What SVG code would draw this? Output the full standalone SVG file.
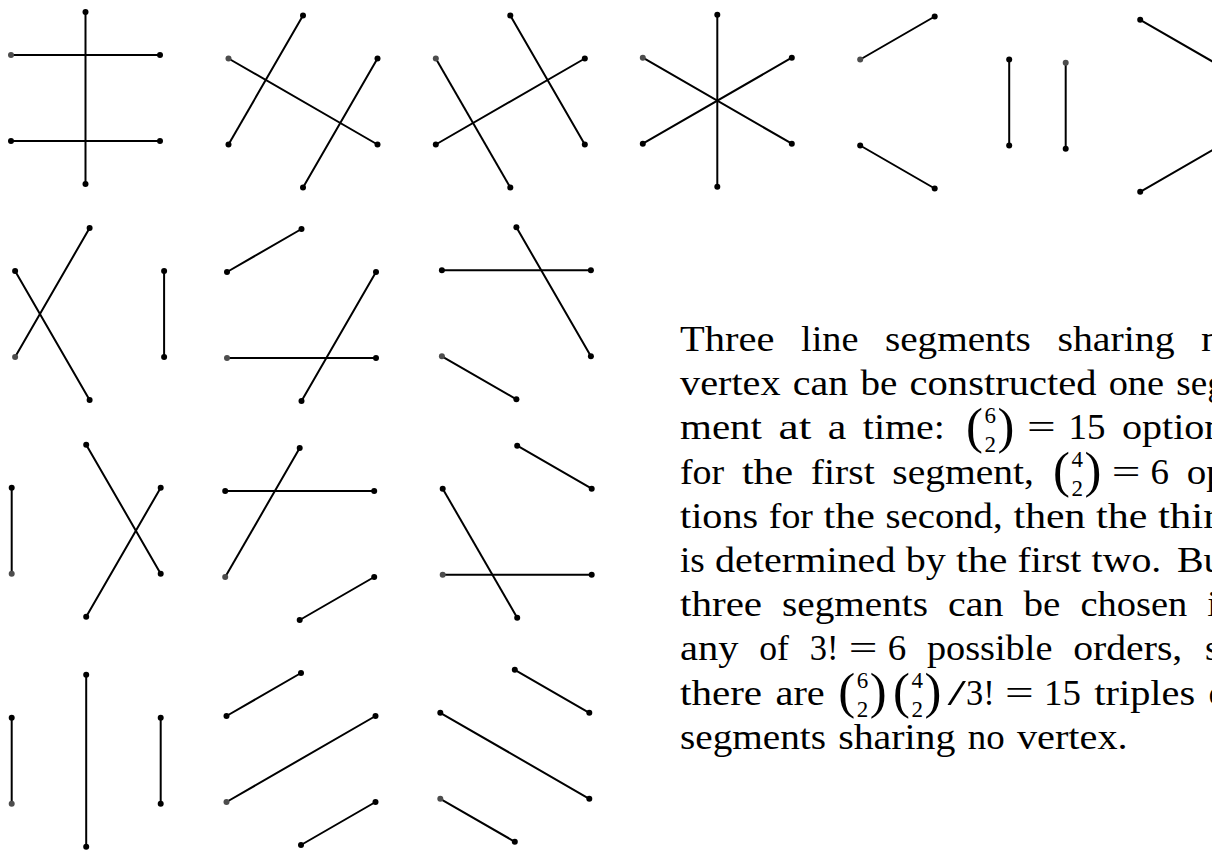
<svg xmlns="http://www.w3.org/2000/svg" width="1212" height="850" viewBox="0 0 1212 850">
<style>
.seg line{stroke:#000;stroke-width:2;stroke-linecap:round}
.dots circle{fill:#000}
.dots circle.g{fill:#4d4d4d}
text{font-family:"Liberation Serif","Times New Roman",serif;font-size:35px;fill:#000}
text.sc{font-size:23px}
text.pr{font-size:50px}
</style>
<rect width="1212" height="850" fill="#fff"/>
<g id="figures">
<g id="p1" transform="translate(85.5,98)"><g class="seg"><line x1="-74.5" y1="-43" x2="74.5" y2="-43"/><line x1="-74.5" y1="43" x2="74.5" y2="43"/><line x1="0" y1="-86" x2="0" y2="86"/></g><g class="dots"><circle class="g" cx="-74.5" cy="-43" r="3"/><circle cx="0" cy="-86" r="3"/><circle cx="74.5" cy="-43" r="3"/><circle cx="74.5" cy="43" r="3"/><circle cx="0" cy="86" r="3"/><circle cx="-74.5" cy="43" r="3"/></g></g>
<g id="p2" transform="translate(303,101.5)"><g class="seg"><line x1="0" y1="-86" x2="-74.5" y2="43"/><line x1="-74.5" y1="-43" x2="74.5" y2="43"/><line x1="74.5" y1="-43" x2="0" y2="86"/></g><g class="dots"><circle class="g" cx="-74.5" cy="-43" r="3"/><circle cx="0" cy="-86" r="3"/><circle cx="74.5" cy="-43" r="3"/><circle cx="74.5" cy="43" r="3"/><circle cx="0" cy="86" r="3"/><circle cx="-74.5" cy="43" r="3"/></g></g>
<g id="p3" transform="translate(510.3,101.5)"><g class="seg"><line x1="-74.5" y1="-43" x2="0" y2="86"/><line x1="-74.5" y1="43" x2="74.5" y2="-43"/><line x1="0" y1="-86" x2="74.5" y2="43"/></g><g class="dots"><circle class="g" cx="-74.5" cy="-43" r="3"/><circle cx="0" cy="-86" r="3"/><circle cx="74.5" cy="-43" r="3"/><circle cx="74.5" cy="43" r="3"/><circle cx="0" cy="86" r="3"/><circle cx="-74.5" cy="43" r="3"/></g></g>
<g id="p4" transform="translate(717.3,100.7)"><g class="seg"><line x1="0" y1="-86" x2="0" y2="86"/><line x1="-74.5" y1="-43" x2="74.5" y2="43"/><line x1="-74.5" y1="43" x2="74.5" y2="-43"/></g><g class="dots"><circle class="g" cx="-74.5" cy="-43" r="3"/><circle cx="0" cy="-86" r="3"/><circle cx="74.5" cy="-43" r="3"/><circle cx="74.5" cy="43" r="3"/><circle cx="0" cy="86" r="3"/><circle cx="-74.5" cy="43" r="3"/></g></g>
<g id="p5" transform="translate(934.7,102.5)"><g class="seg"><line x1="-74.5" y1="-43" x2="0" y2="-86"/><line x1="-74.5" y1="43" x2="0" y2="86"/><line x1="74.5" y1="-43" x2="74.5" y2="43"/></g><g class="dots"><circle class="g" cx="-74.5" cy="-43" r="3"/><circle cx="0" cy="-86" r="3"/><circle cx="74.5" cy="-43" r="3"/><circle cx="74.5" cy="43" r="3"/><circle cx="0" cy="86" r="3"/><circle cx="-74.5" cy="43" r="3"/></g></g>
<g id="p6" transform="translate(1140.2,105.8)"><g class="seg"><line x1="-74.5" y1="-43" x2="-74.5" y2="43"/><line x1="0" y1="-86" x2="74.5" y2="-43"/><line x1="0" y1="86" x2="74.5" y2="43"/></g><g class="dots"><circle class="g" cx="-74.5" cy="-43" r="3"/><circle cx="0" cy="-86" r="3"/><circle cx="0" cy="86" r="3"/><circle cx="-74.5" cy="43" r="3"/></g></g>
<g id="p7" transform="translate(89.6,314)"><g class="seg"><line x1="-74.5" y1="43" x2="0" y2="-86"/><line x1="-74.5" y1="-43" x2="0" y2="86"/><line x1="74.5" y1="-43" x2="74.5" y2="43"/></g><g class="dots"><circle cx="-74.5" cy="-43" r="3"/><circle cx="0" cy="-86" r="3"/><circle cx="74.5" cy="-43" r="3"/><circle cx="74.5" cy="43" r="3"/><circle cx="0" cy="86" r="3"/><circle class="g" cx="-74.5" cy="43" r="3"/></g></g>
<g id="p8" transform="translate(301.5,315)"><g class="seg"><line x1="-74.5" y1="-43" x2="0" y2="-86"/><line x1="-74.5" y1="43" x2="74.5" y2="43"/><line x1="0" y1="86" x2="74.5" y2="-43"/></g><g class="dots"><circle cx="-74.5" cy="-43" r="3"/><circle cx="0" cy="-86" r="3"/><circle cx="74.5" cy="-43" r="3"/><circle cx="74.5" cy="43" r="3"/><circle cx="0" cy="86" r="3"/><circle class="g" cx="-74.5" cy="43" r="3"/></g></g>
<g id="p9" transform="translate(516.4,313.3)"><g class="seg"><line x1="-74.5" y1="-43" x2="74.5" y2="-43"/><line x1="0" y1="-86" x2="74.5" y2="43"/><line x1="-74.5" y1="43" x2="0" y2="86"/></g><g class="dots"><circle cx="-74.5" cy="-43" r="3"/><circle cx="0" cy="-86" r="3"/><circle cx="74.5" cy="-43" r="3"/><circle cx="74.5" cy="43" r="3"/><circle cx="0" cy="86" r="3"/><circle class="g" cx="-74.5" cy="43" r="3"/></g></g>
<g id="p10" transform="translate(86.2,530.7)"><g class="seg"><line x1="-74.5" y1="-43" x2="-74.5" y2="43"/><line x1="0" y1="-86" x2="74.5" y2="43"/><line x1="0" y1="86" x2="74.5" y2="-43"/></g><g class="dots"><circle cx="-74.5" cy="-43" r="3"/><circle cx="0" cy="-86" r="3"/><circle cx="74.5" cy="-43" r="3"/><circle cx="74.5" cy="43" r="3"/><circle cx="0" cy="86" r="3"/><circle class="g" cx="-74.5" cy="43" r="3"/></g></g>
<g id="p11" transform="translate(299.7,534)"><g class="seg"><line x1="-74.5" y1="-43" x2="74.5" y2="-43"/><line x1="0" y1="-86" x2="-74.5" y2="43"/><line x1="74.5" y1="43" x2="0" y2="86"/></g><g class="dots"><circle cx="-74.5" cy="-43" r="3"/><circle cx="0" cy="-86" r="3"/><circle cx="74.5" cy="-43" r="3"/><circle cx="74.5" cy="43" r="3"/><circle cx="0" cy="86" r="3"/><circle class="g" cx="-74.5" cy="43" r="3"/></g></g>
<g id="p12" transform="translate(517.2,531.7)"><g class="seg"><line x1="0" y1="-86" x2="74.5" y2="-43"/><line x1="-74.5" y1="-43" x2="0" y2="86"/><line x1="-74.5" y1="43" x2="74.5" y2="43"/></g><g class="dots"><circle cx="-74.5" cy="-43" r="3"/><circle cx="0" cy="-86" r="3"/><circle cx="74.5" cy="-43" r="3"/><circle cx="74.5" cy="43" r="3"/><circle cx="0" cy="86" r="3"/><circle class="g" cx="-74.5" cy="43" r="3"/></g></g>
<g id="p13" transform="translate(86.2,760.8)"><g class="seg"><line x1="-74.5" y1="-43" x2="-74.5" y2="43"/><line x1="0" y1="-86" x2="0" y2="86"/><line x1="74.5" y1="-43" x2="74.5" y2="43"/></g><g class="dots"><circle cx="-74.5" cy="-43" r="3"/><circle cx="0" cy="-86" r="3"/><circle cx="74.5" cy="-43" r="3"/><circle cx="74.5" cy="43" r="3"/><circle cx="0" cy="86" r="3"/><circle class="g" cx="-74.5" cy="43" r="3"/></g></g>
<g id="p14" transform="translate(301,759)"><g class="seg"><line x1="-74.5" y1="-43" x2="0" y2="-86"/><line x1="-74.5" y1="43" x2="74.5" y2="-43"/><line x1="0" y1="86" x2="74.5" y2="43"/></g><g class="dots"><circle cx="-74.5" cy="-43" r="3"/><circle cx="0" cy="-86" r="3"/><circle cx="74.5" cy="-43" r="3"/><circle cx="74.5" cy="43" r="3"/><circle cx="0" cy="86" r="3"/><circle class="g" cx="-74.5" cy="43" r="3"/></g></g>
<g id="p15" transform="translate(514.8,755.8)"><g class="seg"><line x1="0" y1="-86" x2="74.5" y2="-43"/><line x1="-74.5" y1="-43" x2="74.5" y2="43"/><line x1="-74.5" y1="43" x2="0" y2="86"/></g><g class="dots"><circle cx="-74.5" cy="-43" r="3"/><circle cx="0" cy="-86" r="3"/><circle cx="74.5" cy="-43" r="3"/><circle cx="74.5" cy="43" r="3"/><circle cx="0" cy="86" r="3"/><circle class="g" cx="-74.5" cy="43" r="3"/></g></g>
</g>
<g id="paragraph">
<g id="l1">
<text x="680" y="351" textLength="94.4" lengthAdjust="spacingAndGlyphs">Three</text>
<text x="801" y="351" textLength="57.4" lengthAdjust="spacingAndGlyphs">line</text>
<text x="884.9" y="351" textLength="145.9" lengthAdjust="spacingAndGlyphs">segments</text>
<text x="1057.4" y="351" textLength="117.2" lengthAdjust="spacingAndGlyphs">sharing</text>
<text x="1201.1" y="351" textLength="20.5" lengthAdjust="spacingAndGlyphs">n</text>
</g>
<g id="l2">
<text x="680" y="395.2" textLength="100.6" lengthAdjust="spacingAndGlyphs">vertex</text>
<text x="792.8" y="395.2" textLength="55.4" lengthAdjust="spacingAndGlyphs">can</text>
<text x="860.4" y="395.2" textLength="36.9" lengthAdjust="spacingAndGlyphs">be</text>
<text x="909.6" y="395.2" textLength="186.9" lengthAdjust="spacingAndGlyphs">constructed</text>
<text x="1108.7" y="395.2" textLength="55.4" lengthAdjust="spacingAndGlyphs">one</text>
<text x="1176.3" y="395.2" textLength="49.4" lengthAdjust="spacingAndGlyphs">seg</text>
</g>
<g id="l3">
<text x="680" y="439.4" textLength="82" lengthAdjust="spacingAndGlyphs">ment</text>
<text x="778.5" y="439.4" textLength="32.8" lengthAdjust="spacingAndGlyphs">at</text>
<text x="827.8" y="439.4" textLength="18.5" lengthAdjust="spacingAndGlyphs">a</text>
<text x="862.8" y="439.4" textLength="82" lengthAdjust="spacingAndGlyphs">time:</text>
<text class="pr" x="966" y="443.1" textLength="16.9" lengthAdjust="spacingAndGlyphs">(</text>
<text class="sc" x="990.3" y="423" text-anchor="middle">6</text>
<text class="sc" x="990.3" y="452.1" text-anchor="middle">2</text>
<text class="pr" x="997.6" y="443.1" textLength="16.9" lengthAdjust="spacingAndGlyphs">)</text>
<text x="1027" y="439.4" textLength="28.7" lengthAdjust="spacingAndGlyphs">=</text>
<text x="1068.5" y="439.4" textLength="36.9" lengthAdjust="spacingAndGlyphs">15</text>
<text x="1121.9" y="439.4" textLength="102.5" lengthAdjust="spacingAndGlyphs">option</text>
</g>
<g id="l4">
<text x="680" y="483.6" textLength="44.2" lengthAdjust="spacingAndGlyphs">for</text>
<text x="741.9" y="483.6" textLength="51.3" lengthAdjust="spacingAndGlyphs">the</text>
<text x="810.8" y="483.6" textLength="63.9" lengthAdjust="spacingAndGlyphs">first</text>
<text x="892.3" y="483.6" textLength="141.6" lengthAdjust="spacingAndGlyphs">segment,</text>
<text class="pr" x="1052.9" y="487.3" textLength="16.9" lengthAdjust="spacingAndGlyphs">(</text>
<text class="sc" x="1077.2" y="467.2" text-anchor="middle">4</text>
<text class="sc" x="1077.2" y="496.3" text-anchor="middle">2</text>
<text class="pr" x="1084.5" y="487.3" textLength="16.9" lengthAdjust="spacingAndGlyphs">)</text>
<text x="1111.7" y="483.6" textLength="28.7" lengthAdjust="spacingAndGlyphs">=</text>
<text x="1150.6" y="483.6" textLength="18.5" lengthAdjust="spacingAndGlyphs">6</text>
<text x="1186.8" y="483.6" textLength="39" lengthAdjust="spacingAndGlyphs">op</text>
</g>
<g id="l5">
<text x="680" y="527.8" textLength="78.1" lengthAdjust="spacingAndGlyphs">tions</text>
<text x="768.8" y="527.8" textLength="44.2" lengthAdjust="spacingAndGlyphs">for</text>
<text x="823.6" y="527.8" textLength="51.3" lengthAdjust="spacingAndGlyphs">the</text>
<text x="885.5" y="527.8" textLength="117.1" lengthAdjust="spacingAndGlyphs">second,</text>
<text x="1013.6" y="527.8" textLength="71.8" lengthAdjust="spacingAndGlyphs">then</text>
<text x="1096" y="527.8" textLength="51.3" lengthAdjust="spacingAndGlyphs">the</text>
<text x="1157.9" y="527.8" textLength="59.6" lengthAdjust="spacingAndGlyphs">thir</text>
</g>
<g id="l6">
<text x="680" y="572" textLength="24.8" lengthAdjust="spacingAndGlyphs">is</text>
<text x="715" y="572" textLength="180.5" lengthAdjust="spacingAndGlyphs">determined</text>
<text x="905.8" y="572" textLength="40" lengthAdjust="spacingAndGlyphs">by</text>
<text x="956" y="572" textLength="51.3" lengthAdjust="spacingAndGlyphs">the</text>
<text x="1017.5" y="572" textLength="63.9" lengthAdjust="spacingAndGlyphs">first</text>
<text x="1091.6" y="572" textLength="69.7" lengthAdjust="spacingAndGlyphs">two.</text>
<text x="1177" y="572" textLength="46.6" lengthAdjust="spacingAndGlyphs">Bu</text>
</g>
<g id="l7">
<text x="680" y="616.2" textLength="82.1" lengthAdjust="spacingAndGlyphs">three</text>
<text x="782.1" y="616.2" textLength="145.9" lengthAdjust="spacingAndGlyphs">segments</text>
<text x="948.1" y="616.2" textLength="55.4" lengthAdjust="spacingAndGlyphs">can</text>
<text x="1023.5" y="616.2" textLength="36.9" lengthAdjust="spacingAndGlyphs">be</text>
<text x="1080.4" y="616.2" textLength="106.8" lengthAdjust="spacingAndGlyphs">chosen</text>
<text x="1207.3" y="616.2" textLength="10.3" lengthAdjust="spacingAndGlyphs">i</text>
</g>
<g id="l8">
<text x="680" y="660.4" textLength="58.5" lengthAdjust="spacingAndGlyphs">any</text>
<text x="759.2" y="660.4" textLength="29.7" lengthAdjust="spacingAndGlyphs">of</text>
<text x="809.8" y="660.4" textLength="28.7" lengthAdjust="spacingAndGlyphs">3!</text>
<text x="848.7" y="660.4" textLength="28.7" lengthAdjust="spacingAndGlyphs">=</text>
<text x="887.7" y="660.4" textLength="18.5" lengthAdjust="spacingAndGlyphs">6</text>
<text x="926.9" y="660.4" textLength="125.5" lengthAdjust="spacingAndGlyphs">possible</text>
<text x="1073.2" y="660.4" textLength="109.1" lengthAdjust="spacingAndGlyphs">orders,</text>
<text x="1205" y="660.4" textLength="14.5" lengthAdjust="spacingAndGlyphs">s</text>
</g>
<g id="l9">
<text x="680" y="704.6" textLength="82.1" lengthAdjust="spacingAndGlyphs">there</text>
<text x="775.5" y="704.6" textLength="49.3" lengthAdjust="spacingAndGlyphs">are</text>
<text class="pr" x="838.2" y="708.3" textLength="16.9" lengthAdjust="spacingAndGlyphs">(</text>
<text class="sc" x="862.5" y="688.2" text-anchor="middle">6</text>
<text class="sc" x="862.5" y="717.3" text-anchor="middle">2</text>
<text class="pr" x="869.8" y="708.3" textLength="16.9" lengthAdjust="spacingAndGlyphs">)</text>
<text class="pr" x="892.9" y="708.3" textLength="16.9" lengthAdjust="spacingAndGlyphs">(</text>
<text class="sc" x="917.2" y="688.2" text-anchor="middle">4</text>
<text class="sc" x="917.2" y="717.3" text-anchor="middle">2</text>
<text class="pr" x="924.5" y="708.3" textLength="16.9" lengthAdjust="spacingAndGlyphs">)</text>
<text x="947.5" y="704.6" textLength="18.5" lengthAdjust="spacingAndGlyphs">/</text>
<text x="966" y="704.6" textLength="28.7" lengthAdjust="spacingAndGlyphs">3!</text>
<text x="1005" y="704.6" textLength="28.7" lengthAdjust="spacingAndGlyphs">=</text>
<text x="1044" y="704.6" textLength="36.9" lengthAdjust="spacingAndGlyphs">15</text>
<text x="1094.3" y="704.6" textLength="100.8" lengthAdjust="spacingAndGlyphs">triples</text>
<text x="1208.5" y="704.6" textLength="18.5" lengthAdjust="spacingAndGlyphs">o</text>
</g>
<g id="l10">
<text x="680" y="748.8" textLength="145.9" lengthAdjust="spacingAndGlyphs">segments</text>
<text x="838.2" y="748.8" textLength="117.2" lengthAdjust="spacingAndGlyphs">sharing</text>
<text x="967.7" y="748.8" textLength="36.9" lengthAdjust="spacingAndGlyphs">no</text>
<text x="1016.9" y="748.8" textLength="110.8" lengthAdjust="spacingAndGlyphs">vertex.</text>
</g>
</g>
</svg>
